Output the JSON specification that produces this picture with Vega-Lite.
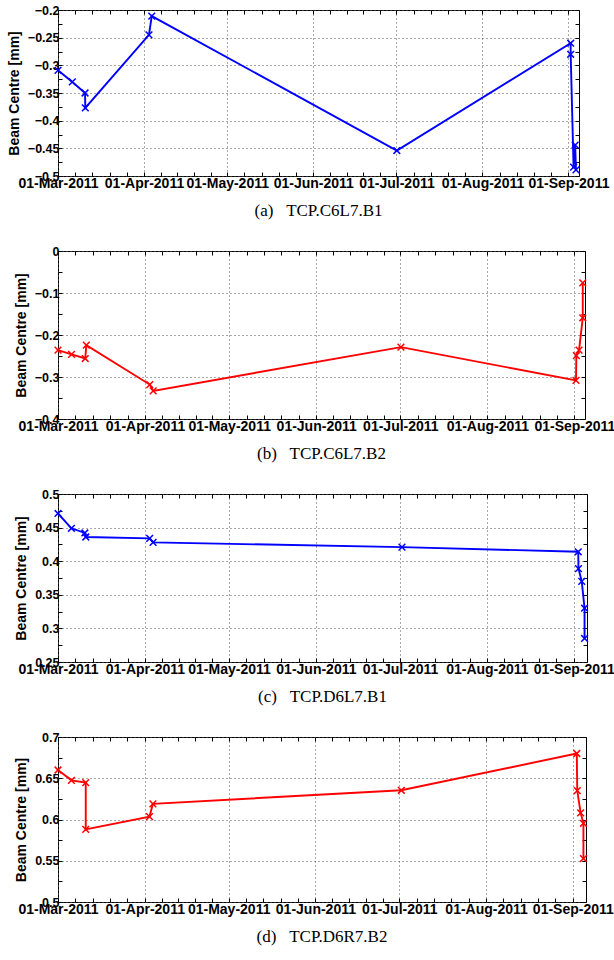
{
  "$schema": "https://vega.github.io/schema/vega-lite/v6.json",
  "background": "white",
  "padding": {"left": 6, "top": 3, "right": 0, "bottom": 4},
  "params": [
    {"name": "xt", "expr": "[utc(2011,2,1),utc(2011,2,7,4,48),utc(2011,2,13,9,36),utc(2011,2,19,14,24),utc(2011,2,25,19,12),utc(2011,3,1),utc(2011,3,7),utc(2011,3,13),utc(2011,3,19),utc(2011,3,25),utc(2011,4,1),utc(2011,4,7,4,48),utc(2011,4,13,9,36),utc(2011,4,19,14,24),utc(2011,4,25,19,12),utc(2011,5,1),utc(2011,5,7),utc(2011,5,13),utc(2011,5,19),utc(2011,5,25),utc(2011,6,1),utc(2011,6,7,4,48),utc(2011,6,13,9,36),utc(2011,6,19,14,24),utc(2011,6,25,19,12),utc(2011,7,1),utc(2011,7,7,4,48),utc(2011,7,13,9,36),utc(2011,7,19,14,24),utc(2011,7,25,19,12),utc(2011,8,1)]"}
  ],
  "datasets": {
    "a": [
      {"i": 1, "t": "2011-03-01T00:00:00Z", "v": -0.309},
      {"i": 2, "t": "2011-03-06T04:00:00Z", "v": -0.330},
      {"i": 3, "t": "2011-03-10T18:00:00Z", "v": -0.350},
      {"i": 4, "t": "2011-03-10T20:00:00Z", "v": -0.377},
      {"i": 5, "t": "2011-04-02T19:00:00Z", "v": -0.245},
      {"i": 6, "t": "2011-04-03T19:00:00Z", "v": -0.211},
      {"i": 7, "t": "2011-07-01T03:00:00Z", "v": -0.454},
      {"i": 8, "t": "2011-09-01T19:00:00Z", "v": -0.260},
      {"i": 9, "t": "2011-09-01T19:00:00Z", "v": -0.280},
      {"i": 10, "t": "2011-09-02T20:00:00Z", "v": -0.484},
      {"i": 11, "t": "2011-09-03T10:00:00Z", "v": -0.444},
      {"i": 12, "t": "2011-09-03T17:00:00Z", "v": -0.489}
    ],
    "b": [
      {"i": 1, "t": "2011-03-01T00:00:00Z", "v": -0.236},
      {"i": 2, "t": "2011-03-05T20:00:00Z", "v": -0.246},
      {"i": 3, "t": "2011-03-10T17:00:00Z", "v": -0.256},
      {"i": 4, "t": "2011-03-11T02:00:00Z", "v": -0.224},
      {"i": 5, "t": "2011-04-02T17:00:00Z", "v": -0.318},
      {"i": 6, "t": "2011-04-03T22:00:00Z", "v": -0.333},
      {"i": 7, "t": "2011-07-01T05:00:00Z", "v": -0.229},
      {"i": 8, "t": "2011-09-01T14:00:00Z", "v": -0.308},
      {"i": 9, "t": "2011-09-01T17:00:00Z", "v": -0.249},
      {"i": 10, "t": "2011-09-02T16:00:00Z", "v": -0.236},
      {"i": 11, "t": "2011-09-04T00:00:00Z", "v": -0.159},
      {"i": 12, "t": "2011-09-04T00:00:00Z", "v": -0.076}
    ],
    "c": [
      {"i": 1, "t": "2011-03-01T00:00:00Z", "v": 0.471},
      {"i": 2, "t": "2011-03-05T19:00:00Z", "v": 0.449},
      {"i": 3, "t": "2011-03-10T14:00:00Z", "v": 0.442},
      {"i": 4, "t": "2011-03-10T22:00:00Z", "v": 0.436},
      {"i": 5, "t": "2011-04-02T17:00:00Z", "v": 0.434},
      {"i": 6, "t": "2011-04-03T22:00:00Z", "v": 0.428},
      {"i": 7, "t": "2011-07-01T17:00:00Z", "v": 0.421},
      {"i": 8, "t": "2011-09-02T14:00:00Z", "v": 0.414},
      {"i": 9, "t": "2011-09-02T16:00:00Z", "v": 0.389},
      {"i": 10, "t": "2011-09-03T20:00:00Z", "v": 0.370},
      {"i": 11, "t": "2011-09-04T20:00:00Z", "v": 0.330},
      {"i": 12, "t": "2011-09-04T20:00:00Z", "v": 0.285}
    ],
    "d": [
      {"i": 1, "t": "2011-03-01T00:00:00Z", "v": 0.660},
      {"i": 2, "t": "2011-03-05T19:00:00Z", "v": 0.6475},
      {"i": 3, "t": "2011-03-10T22:00:00Z", "v": 0.6447},
      {"i": 4, "t": "2011-03-10T22:00:00Z", "v": 0.588},
      {"i": 5, "t": "2011-04-02T17:00:00Z", "v": 0.6035},
      {"i": 6, "t": "2011-04-03T22:00:00Z", "v": 0.619},
      {"i": 7, "t": "2011-07-01T17:00:00Z", "v": 0.6354},
      {"i": 8, "t": "2011-09-02T10:00:00Z", "v": 0.680},
      {"i": 9, "t": "2011-09-02T14:00:00Z", "v": 0.635},
      {"i": 10, "t": "2011-09-03T19:00:00Z", "v": 0.608},
      {"i": 11, "t": "2011-09-04T19:00:00Z", "v": 0.5954},
      {"i": 12, "t": "2011-09-04T19:00:00Z", "v": 0.5527}
    ]
  },
  "concat": [
    {
      "width": 521, "height": 166,
      "title": {"text": "(a)\u00a0\u00a0\u00a0TCP.C6L7.B1"},
      "data": {"name": "a"},
      "layer": [
        {
          "mark": {"type": "line", "color": "#0000ff", "strokeWidth": 1.9},
          "encoding": {
            "x": {"field": "t", "type": "temporal",
              "scale": {"type": "utc", "nice": false, "domain": [{"year": 2011, "month": 3, "date": 1, "utc": true}, {"year": 2011, "month": 9, "date": 4, "hours": 19, "utc": true}]},
              "axis": {"orient": "bottom", "title": null, "grid": true, "values": {"expr": "xt"},
                "labelExpr": "utcdate(datum.value)==1 && utchours(datum.value)==0 ? utcFormat(datum.value, '%d-%b-%Y') : ''",
                "gridOpacity": {"condition": {"test": "utcdate(datum.value)==1 && utchours(datum.value)==0", "value": 1}, "value": 0}}},
            "y": {"field": "v", "type": "quantitative",
              "scale": {"domain": [-0.5, -0.2], "nice": false, "zero": false},
              "axis": {"orient": "left", "title": "Beam Centre [mm]", "grid": true,
                "values": [-0.5, -0.475, -0.45, -0.425, -0.4, -0.375, -0.35, -0.325, -0.3, -0.275, -0.25, -0.225, -0.2],
                "labelExpr": "abs(datum.value*20-round(datum.value*20))<0.001 ? format(datum.value, '.2~f') : ''",
                "gridOpacity": {"condition": {"test": "abs(datum.value*20-round(datum.value*20))<0.001", "value": 1}, "value": 0}}},
            "order": {"field": "i", "type": "quantitative"}
          }
        },
        {
          "mark": {"type": "point", "shape": "M-1,-1L1,1M-1,1L1,-1", "filled": false, "color": "#0000ff", "strokeWidth": 1.5, "size": 45, "opacity": 1},
          "encoding": {
            "x": {"field": "t", "type": "temporal", "axis": {"orient": "top", "title": null, "values": {"expr": "xt"}, "labels": false, "grid": false}},
            "y": {"field": "v", "type": "quantitative", "axis": {"orient": "right", "title": null, "labels": false, "grid": false,
              "values": [-0.5, -0.475, -0.45, -0.425, -0.4, -0.375, -0.35, -0.325, -0.3, -0.275, -0.25, -0.225, -0.2]}}
          }
        }
      ],
      "resolve": {"axis": {"x": "independent", "y": "independent"}}
    },
    {
      "width": 527, "height": 168,
      "title": {"text": "(b)\u00a0\u00a0\u00a0TCP.C6L7.B2"},
      "data": {"name": "b"},
      "layer": [
        {
          "mark": {"type": "line", "color": "#ff0000", "strokeWidth": 1.9},
          "encoding": {
            "x": {"field": "t", "type": "temporal",
              "scale": {"type": "utc", "nice": false, "domain": [{"year": 2011, "month": 3, "date": 1, "utc": true}, {"year": 2011, "month": 9, "date": 4, "hours": 19, "utc": true}]},
              "axis": {"orient": "bottom", "title": null, "grid": true, "values": {"expr": "xt"},
                "labelExpr": "utcdate(datum.value)==1 && utchours(datum.value)==0 ? utcFormat(datum.value, '%d-%b-%Y') : ''",
                "gridOpacity": {"condition": {"test": "utcdate(datum.value)==1 && utchours(datum.value)==0", "value": 1}, "value": 0}}},
            "y": {"field": "v", "type": "quantitative",
              "scale": {"domain": [-0.4, 0], "nice": false, "zero": false},
              "axis": {"orient": "left", "title": "Beam Centre [mm]", "grid": true,
                "values": [-0.4, -0.35, -0.3, -0.25, -0.2, -0.15, -0.1, -0.05, 0],
                "labelExpr": "abs(datum.value*10-round(datum.value*10))<0.001 ? format(datum.value, '.1~f') : ''",
                "gridOpacity": {"condition": {"test": "abs(datum.value*10-round(datum.value*10))<0.001", "value": 1}, "value": 0}}},
            "order": {"field": "i", "type": "quantitative"}
          }
        },
        {
          "mark": {"type": "point", "shape": "M-1,-1L1,1M-1,1L1,-1", "filled": false, "color": "#ff0000", "strokeWidth": 1.5, "size": 45, "opacity": 1},
          "encoding": {
            "x": {"field": "t", "type": "temporal", "axis": {"orient": "top", "title": null, "values": {"expr": "xt"}, "labels": false, "grid": false}},
            "y": {"field": "v", "type": "quantitative", "axis": {"orient": "right", "title": null, "labels": false, "grid": false,
              "values": [-0.4, -0.35, -0.3, -0.25, -0.2, -0.15, -0.1, -0.05, 0]}}
          }
        }
      ],
      "resolve": {"axis": {"x": "independent", "y": "independent"}}
    },
    {
      "width": 529, "height": 168,
      "title": {"text": "(c)\u00a0\u00a0\u00a0TCP.D6L7.B1"},
      "data": {"name": "c"},
      "layer": [
        {
          "mark": {"type": "line", "color": "#0000ff", "strokeWidth": 1.9},
          "encoding": {
            "x": {"field": "t", "type": "temporal",
              "scale": {"type": "utc", "nice": false, "domain": [{"year": 2011, "month": 3, "date": 1, "utc": true}, {"year": 2011, "month": 9, "date": 5, "hours": 17, "utc": true}]},
              "axis": {"orient": "bottom", "title": null, "grid": true, "values": {"expr": "xt"},
                "labelExpr": "utcdate(datum.value)==1 && utchours(datum.value)==0 ? utcFormat(datum.value, '%d-%b-%Y') : ''",
                "gridOpacity": {"condition": {"test": "utcdate(datum.value)==1 && utchours(datum.value)==0", "value": 1}, "value": 0}}},
            "y": {"field": "v", "type": "quantitative",
              "scale": {"domain": [0.25, 0.5], "nice": false, "zero": false},
              "axis": {"orient": "left", "title": "Beam Centre [mm]", "grid": true,
                "values": [0.25, 0.275, 0.3, 0.325, 0.35, 0.375, 0.4, 0.425, 0.45, 0.475, 0.5],
                "labelExpr": "abs(datum.value*20-round(datum.value*20))<0.001 ? format(datum.value, '.2~f') : ''",
                "gridOpacity": {"condition": {"test": "abs(datum.value*20-round(datum.value*20))<0.001", "value": 1}, "value": 0}}},
            "order": {"field": "i", "type": "quantitative"}
          }
        },
        {
          "mark": {"type": "point", "shape": "M-1,-1L1,1M-1,1L1,-1", "filled": false, "color": "#0000ff", "strokeWidth": 1.5, "size": 45, "opacity": 1},
          "encoding": {
            "x": {"field": "t", "type": "temporal", "axis": {"orient": "top", "title": null, "values": {"expr": "xt"}, "labels": false, "grid": false}},
            "y": {"field": "v", "type": "quantitative", "axis": {"orient": "right", "title": null, "labels": false, "grid": false,
              "values": [0.25, 0.275, 0.3, 0.325, 0.35, 0.375, 0.4, 0.425, 0.45, 0.475, 0.5]}}
          }
        }
      ],
      "resolve": {"axis": {"x": "independent", "y": "independent"}}
    },
    {
      "width": 528, "height": 165,
      "title": {"text": "(d)\u00a0\u00a0\u00a0TCP.D6R7.B2"},
      "data": {"name": "d"},
      "layer": [
        {
          "mark": {"type": "line", "color": "#ff0000", "strokeWidth": 1.9},
          "encoding": {
            "x": {"field": "t", "type": "temporal",
              "scale": {"type": "utc", "nice": false, "domain": [{"year": 2011, "month": 3, "date": 1, "utc": true}, {"year": 2011, "month": 9, "date": 5, "hours": 17, "utc": true}]},
              "axis": {"orient": "bottom", "title": null, "grid": true, "values": {"expr": "xt"},
                "labelExpr": "utcdate(datum.value)==1 && utchours(datum.value)==0 ? utcFormat(datum.value, '%d-%b-%Y') : ''",
                "gridOpacity": {"condition": {"test": "utcdate(datum.value)==1 && utchours(datum.value)==0", "value": 1}, "value": 0}}},
            "y": {"field": "v", "type": "quantitative",
              "scale": {"domain": [0.5, 0.7], "nice": false, "zero": false},
              "axis": {"orient": "left", "title": "Beam Centre [mm]", "grid": true,
                "values": [0.5, 0.525, 0.55, 0.575, 0.6, 0.625, 0.65, 0.675, 0.7],
                "labelExpr": "abs(datum.value*20-round(datum.value*20))<0.001 ? format(datum.value, '.2~f') : ''",
                "gridOpacity": {"condition": {"test": "abs(datum.value*20-round(datum.value*20))<0.001", "value": 1}, "value": 0}}},
            "order": {"field": "i", "type": "quantitative"}
          }
        },
        {
          "mark": {"type": "point", "shape": "M-1,-1L1,1M-1,1L1,-1", "filled": false, "color": "#ff0000", "strokeWidth": 1.5, "size": 45, "opacity": 1},
          "encoding": {
            "x": {"field": "t", "type": "temporal", "axis": {"orient": "top", "title": null, "values": {"expr": "xt"}, "labels": false, "grid": false}},
            "y": {"field": "v", "type": "quantitative", "axis": {"orient": "right", "title": null, "labels": false, "grid": false,
              "values": [0.5, 0.525, 0.55, 0.575, 0.6, 0.625, 0.65, 0.675, 0.7]}}
          }
        }
      ],
      "resolve": {"axis": {"x": "independent", "y": "independent"}}
    }
  ],
  "columns": 1,
  "align": "none",
  "spacing": 24,
  "config": {
    "font": "Liberation Sans",
    "view": {"stroke": "black", "strokeWidth": 1},
    "axis": {
      "domain": false,
      "labelFont": "Liberation Sans", "labelFontWeight": "bold", "labelColor": "black",
      "tickColor": "black", "tickSize": -4, "tickWidth": 1,
      "gridColor": "#555555", "gridDash": [1, 3], "gridWidth": 1,
      "labelOverlap": false, "labelFlush": false, "labelBound": false,
      "titleFont": "Liberation Sans", "titleFontWeight": "bold", "titleColor": "black", "titleFontSize": 14
    },
    "axisX": {"labelFontSize": 14, "labelPadding": 4},
    "axisY": {"labelFontSize": 12.5, "labelPadding": 3, "titlePadding": 6},
    "title": {"font": "Liberation Serif", "fontSize": 17, "fontWeight": "normal", "color": "black", "orient": "bottom", "anchor": "middle", "offset": 13}
  }
}
